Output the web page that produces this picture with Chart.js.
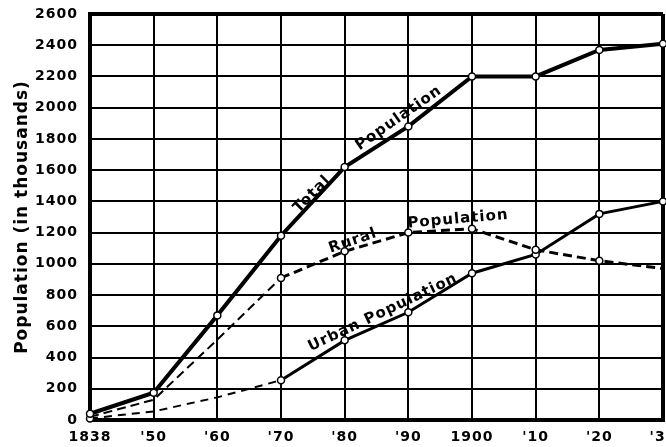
<!DOCTYPE html>
<html>
<head>
<meta charset="utf-8">
<title>Population</title>
<script src="https://cdn.jsdelivr.net/npm/chart.js@4.4.1/dist/chart.umd.min.js"></script>
<style>
html,body{margin:0;padding:0;background:#fff;overflow:hidden;}
#wrap{width:666px;height:447px;}
</style>
</head>
<body>
<div id="wrap"><canvas id="popChart" width="666" height="447"></canvas></div>
<script>
// =====================================================
// Population 1838 - 1930 (in thousands)
// =====================================================

// ---------- Data ----------

const years    = ["1838", "'50", "'60", "'70", "'80", "'90", "1900", "'10", "'20", "'30"];
const totalPop = [40, 175, 670, 1180, 1620, 1880, 2200, 2200, 2370, 2410];
const ruralPop = [20, 130, 515, 910, 1080, 1200, 1225, 1090, 1020, 970];
const urbanPop = [10, 55, 145, 255, 510, 690, 940, 1060, 1320, 1400];

// census points drawn with an open circle
const totalMarks = [1, 1, 1, 1, 1, 1, 1, 1, 1, 1];
const ruralMarks = [0, 0, 0, 1, 1, 1, 1, 1, 1, 0];
const urbanMarks = [1, 0, 0, 1, 1, 1, 1, 1, 1, 1];

const yMax  = 2600;
const yStep = 200;

// names lettered along the curves: text, year index, value, angle
const curveNames = [
    ["Total",      3.49, 1446, -45],
    ["Population", 4.85, 1933, -35],
    ["Rural",      4.13, 1146, -19],
    ["Population", 5.78, 1286, -5],
    ["Urban Population", 4.60, 688, -25.5]
];

const FONT = "'DejaVu Sans', Verdana, sans-serif";
const INK  = "#000";


// ---------- Helpers ----------

function markRadius(marks){
    return marks.map(m => m ? 3.5 : 0);
}


// ---------- Plugins ----------

// wider letter spacing for all lettering
const spacing = {
    id: "spacing",
    beforeDraw(chart){
        chart.ctx.letterSpacing = "1px";
    }
};

// curve names
const curveLabels = {
    id: "curveLabels",
    afterDatasetsDraw(chart){
        const ctx = chart.ctx;
        const xs = chart.scales.x;
        const ys = chart.scales.y;
        ctx.save();
        ctx.fillStyle = INK;
        ctx.font = "bold 15px " + FONT;
        ctx.textAlign = "center";
        ctx.textBaseline = "middle";
        curveNames.forEach(([text, idx, val, angle]) => {
            ctx.save();
            ctx.translate(xs.getPixelForValue(idx), ys.getPixelForValue(val));
            ctx.rotate(angle * Math.PI / 180);
            ctx.fillText(text, 0, 0);
            ctx.restore();
        });
        ctx.restore();
    }
};


// ---------- Chart ----------

const canvas = document.getElementById("popChart");

new Chart(canvas, {

    type: "line",

    data: {
        labels: years,
        datasets: [
            {
                label: "Total Population",
                data: totalPop,
                borderColor: INK,
                borderWidth: 4,
                pointRadius: markRadius(totalMarks),
                pointBackgroundColor: "#fff",
                pointBorderColor: INK,
                pointBorderWidth: 1.5,
                tension: 0,
                clip: false
            },
            {
                label: "Rural Population",
                data: ruralPop,
                borderColor: INK,
                borderWidth: 3,
                borderDash: [9, 5],
                segment: {
                    borderWidth: c => c.p0DataIndex < 3 ? 2 : 3
                },
                pointRadius: markRadius(ruralMarks),
                pointBackgroundColor: "#fff",
                pointBorderColor: INK,
                pointBorderWidth: 1.5,
                tension: 0,
                clip: false
            },
            {
                label: "Urban Population",
                data: urbanPop,
                borderColor: INK,
                borderWidth: 3,
                segment: {
                    borderDash: c => c.p0DataIndex < 3 ? [8, 6] : [],
                    borderWidth: c => c.p0DataIndex < 3 ? 2 : 3
                },
                pointRadius: markRadius(urbanMarks),
                pointBackgroundColor: "#fff",
                pointBorderColor: INK,
                pointBorderWidth: 1.5,
                tension: 0,
                clip: false
            }
        ]
    },

    options: {
        responsive: false,
        animation: false,
        devicePixelRatio: 1,
        layout: {
            autoPadding: false,
            padding: { top: 14, right: 3, bottom: 0, left: 0 }
        },
        plugins: {
            legend: { display: false },
            tooltip: { enabled: false }
        },
        scales: {
            x: {
                type: "category",
                grid: {
                    color: INK,
                    drawTicks: false,
                    lineWidth: c => (c.index === 0 || c.index === years.length - 1) ? 4 : 2
                },
                border: { display: true, color: INK, width: 4 },
                ticks: {
                    color: INK,
                    padding: 9,
                    autoSkip: false,
                    maxRotation: 0,
                    font: { family: FONT, size: 14, weight: "bold" }
                },
                afterFit(scale){
                    scale.height = 27;
                    scale.paddingLeft = 0;
                    scale.paddingRight = 0;
                }
            },
            y: {
                min: 0,
                max: yMax,
                grid: {
                    color: INK,
                    drawTicks: false,
                    lineWidth: c => (c.tick && (c.tick.value === 0 || c.tick.value === yMax)) ? 4 : 2
                },
                border: { display: true, color: INK, width: 4 },
                ticks: {
                    stepSize: yStep,
                    color: INK,
                    padding: 12,
                    callback: v => String(v),
                    font: { family: FONT, size: 14, weight: "bold" }
                },
                title: {
                    display: true,
                    text: "Population (in thousands)",
                    color: INK,
                    padding: { top: 12, bottom: 0 },
                    font: { family: FONT, size: 17, weight: "bold" }
                },
                afterFit(scale){
                    scale.width = 90;
                    scale.paddingTop = 0;
                    scale.paddingBottom = 0;
                }
            }
        }
    },

    plugins: [spacing, curveLabels]

});
</script>
</body>
</html>
